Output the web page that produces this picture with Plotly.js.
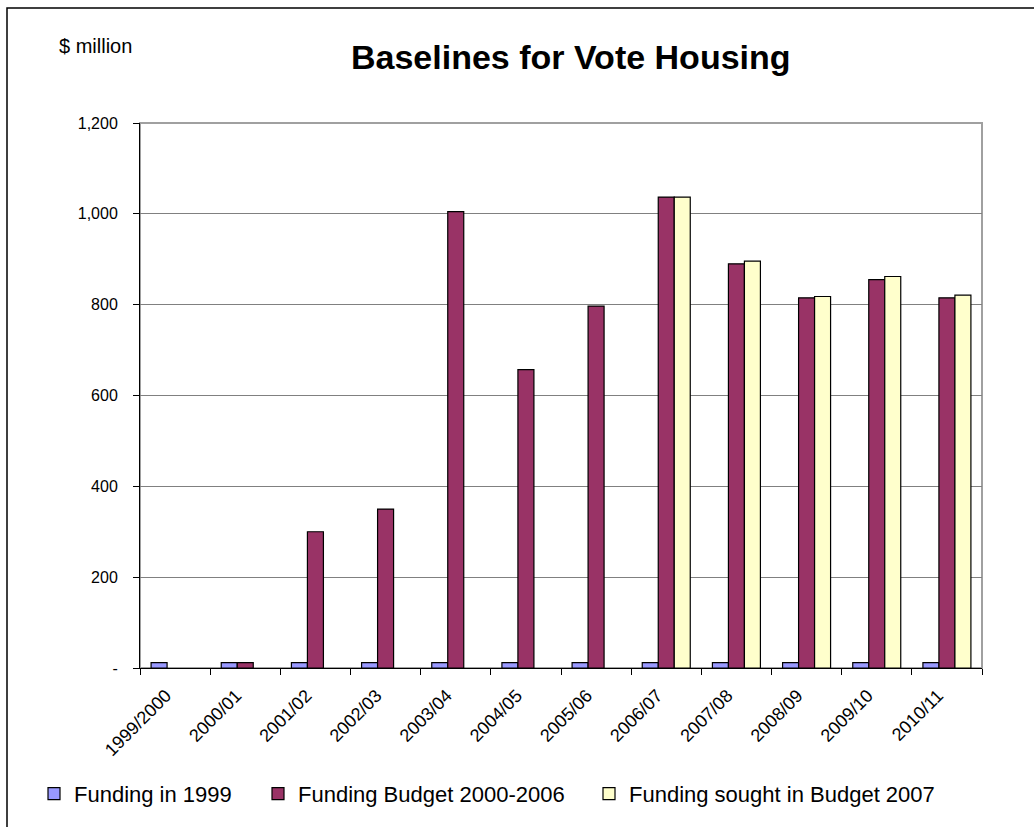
<!DOCTYPE html>
<html>
<head>
<meta charset="utf-8">
<script src="https://cdn.plot.ly/plotly-3.0.1.min.js"></script>
<style>html,body{margin:0;padding:0;background:#fff;}#chart{width:1034px;height:827px;}</style>
</head>
<body>
<div id="chart"></div>
<script>
var categories = ["1999/2000","2000/01","2001/02","2002/03","2003/04","2004/05","2005/06","2006/07","2007/08","2008/09","2009/10","2010/11"];
var funding1999 = [12,12,12,12,12,12,12,12,12,12,12,12];
var fundingBudget2000_2006 = [null,12,300,350,1005,657,797,1037,890,815,855,815];
var fundingSought2007 = [null,null,null,null,null,null,null,1037,896,818,862,821];
var yTickVals = [0,200,400,600,800,1000,1200];
var yTickText = ["-","200","400","600","800","1,000","1,200"];
var seriesNames = ["Funding in 1999","Funding Budget 2000-2006","Funding sought in Budget 2007"];

var FONT = "Liberation Sans, Arial, sans-serif";
var outline = {color:"#000000", width:1.2};
var traces = [
  {type:"bar", name:seriesNames[0], x:categories, y:funding1999, marker:{color:"#9999FF", line:outline}, legend:"legend"},
  {type:"bar", name:seriesNames[1], x:categories, y:fundingBudget2000_2006, marker:{color:"#993366", line:outline}, legend:"legend2"},
  {type:"bar", name:seriesNames[2], x:categories, y:fundingSought2007, marker:{color:"#FFFFCC", line:outline}, legend:"legend3"}
];

function px2x(p){ return (p-140)/842; }
var legY = (673-800)/550;
var legFont = {family:FONT, size:22, color:"#000"};
function leg(xpx){ return {orientation:"h", x:px2x(xpx), xanchor:"left", y:legY, yanchor:"middle", font:legFont, bgcolor:"rgba(0,0,0,0)"}; }

var layout = {
  width:1034, height:827,
  margin:{l:140, r:52, t:123, b:154},
  paper_bgcolor:"#ffffff", plot_bgcolor:"#ffffff",
  font:{family:FONT, size:17, color:"#000000"},
  barmode:"group", bargap:0.316, bargroupgap:0,
  showlegend:true,
  title:{text:"<b>Baselines for Vote Housing</b>", font:{family:FONT, size:34, color:"#000"},
         x:0.552, xref:"container", xanchor:"center", y:1-57/827, yref:"container", yanchor:"middle"},
  xaxis:{type:"category", tickangle:-45, tickson:"boundaries", ticks:"outside", ticklen:6, tickcolor:"#000",
         showline:true, linecolor:"#000", linewidth:1, showgrid:false, tickfont:{family:FONT, size:18},
         ticklabelstandoff:9, ticklabelshift:-9},
  yaxis:{range:[0,1200], tickvals:yTickVals, ticktext:yTickText, ticks:"outside", ticklen:6, tickcolor:"#000",
         showline:true, linecolor:"#000", linewidth:1, showgrid:true, gridcolor:"#808080", gridwidth:1,
         zeroline:false, tickfont:{family:FONT, size:16}, ticklabelstandoff:12},
  legend:leg(34), legend2:leg(258), legend3:leg(589),
  annotations:[{text:"$ million", xref:"paper", yref:"paper", x:px2x(57), y:(673-45)/550,
                xanchor:"left", yanchor:"middle", showarrow:false, font:{family:FONT, size:20}}],
  shapes:[
    {type:"rect", xref:"paper", yref:"paper", x0:0, x1:1, y0:0, y1:1, line:{color:"#A0A0A0", width:2}, layer:"below"},
    {type:"rect", xref:"paper", yref:"paper", x0:px2x(7), x1:px2x(1040), y0:(673-835)/550, y1:(673-7)/550,
     line:{color:"#000", width:1.5}}
  ]
};
Plotly.newPlot("chart", traces, layout, {displayModeBar:false, staticPlot:true});
</script>
</body>
</html>
